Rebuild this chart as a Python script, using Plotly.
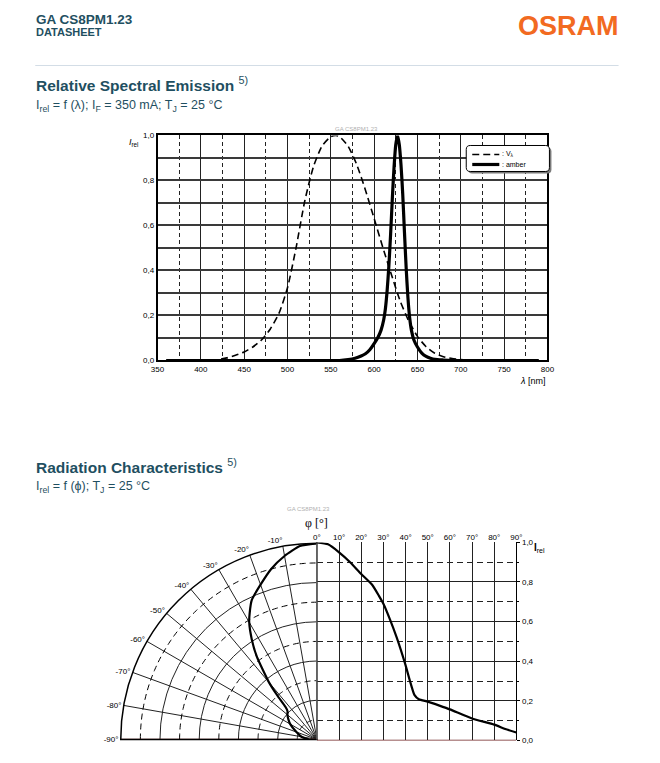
import numpy as np
import plotly.graph_objects as go

# Figure is 644x747 (the page body keeps an 8px margin).
# Positions below are given in reference-picture pixels and converted with a
# measured calibration between figure pixels and the photographed page.
OFF = 8
W, H = 644, 747
AX, BX = 0.976, 9.0
AY, BY = 0.988, 2.6


def sx(p):
    return (p - BX) / AX


def sy(p):
    return (p - BY) / AY


def X(p):
    return (sx(p) - OFF) / W


def Y(p):
    return 1 - (sy(p) - OFF) / H


# ---------------- data: relative spectral emission ----------------
v_wl = [360, 370, 380, 390, 400, 410, 420, 430, 440, 450, 460, 470, 480, 490, 500,
        510, 520, 530, 540, 550, 556, 560, 570, 580, 590, 600, 610, 620, 630, 640,
        650, 660, 670, 680, 690, 700, 710, 720, 730, 740, 750, 760, 770, 780, 790]
v_rel = [0.0, 0.0, 0.0, 0.0001, 0.0004, 0.0012, 0.004, 0.0116, 0.023, 0.038, 0.06,
         0.091, 0.139, 0.208, 0.323, 0.503, 0.71, 0.862, 0.954, 0.995, 1.0, 0.995,
         0.952, 0.87, 0.757, 0.631, 0.503, 0.381, 0.265, 0.175, 0.107, 0.061, 0.032,
         0.017, 0.0082, 0.0041, 0.0021, 0.001, 0.0005, 0.0002, 0.0001, 0.0, 0.0, 0.0, 0.0]

amber_wl = [360, 450, 520, 560, 570, 578, 585, 590, 595, 600, 604, 608, 611, 613,
            615, 617, 619, 621, 623, 625, 627, 629, 631, 633, 635, 637, 639, 641,
            643, 646, 650, 655, 660, 665, 670, 680, 690, 720, 790]
amber_rel = [0.0, 0.0, 0.0, 0.0, 0.004, 0.01, 0.02, 0.03, 0.048, 0.075, 0.10, 0.135,
             0.18, 0.23, 0.31, 0.42, 0.56, 0.72, 0.86, 0.96, 1.0, 0.96, 0.87, 0.74,
             0.57, 0.41, 0.28, 0.19, 0.135, 0.09, 0.06, 0.033, 0.018, 0.01, 0.005,
             0.002, 0.0, 0.0, 0.0]

spec_xticks = [350, 400, 450, 500, 550, 600, 650, 700, 750, 800]
spec_xminor = [375, 425, 475, 525, 575, 625, 675, 725, 775]
spec_yticks = [0.0, 0.2, 0.4, 0.6, 0.8, 1.0]
spec_ytick_text = ["0,0", "0,2", "0,4", "0,6", "0,8", "1,0"]
spec_yminor = [0.1, 0.3, 0.5, 0.7, 0.9]
legend_names = [": V<sub>λ</sub>", ": amber"]

# ---------------- data: radiation characteristics ----------------
angles = [0, 5, 10, 15, 20, 25, 28, 30, 33, 36, 40, 42, 44, 46, 50, 55, 60, 70, 80, 85, 90]
i_rel = [1.0, 0.99, 0.95, 0.9, 0.84, 0.785, 0.73, 0.69, 0.61, 0.52, 0.38, 0.30, 0.23,
         0.208, 0.196, 0.177, 0.157, 0.111, 0.08, 0.058, 0.04]

rad_xticks = [0, 10, 20, 30, 40, 50, 60, 70, 80, 90]
rad_xtick_text = ["0°", "10°", "20°", "30°", "40°", "50°", "60°", "70°", "80°", "90°"]
rad_yticks = [0.0, 0.2, 0.4, 0.6, 0.8, 1.0]
rad_ytick_text = ["0,0", "0,2", "0,4", "0,6", "0,8", "1,0"]
rad_yminor = [0.1, 0.3, 0.5, 0.7, 0.9]
polar_ticks = [-90, -80, -70, -60, -50, -40, -30, -20, -10]
polar_tick_text = ["-90°", "-80°", "-70°", "-60°", "-50°", "-40°", "-30°", "-20°", "-10°"]
polar_solid_r = [0.2, 0.4, 0.6, 0.8, 1.0]
polar_dash_r = [0.1, 0.3, 0.5, 0.7, 0.9]

FONT = "Liberation Sans, Arial, sans-serif"
TEAL = "#1f4f61"
DARKRED = "#6e2020"
V_DASH = "7px,4px"

# polar / radiation geometry (square in figure pixels)
CX, CY = sx(318), sy(739)
R = 200.5
pol_x = [(CX - R - OFF) / W, (CX - OFF) / W]
pol_y = [1 - (CY - OFF) / H, 1 - (CY - R - OFF) / H]
rad_x = [(CX - OFF) / W, X(517)]

fig = go.Figure()

# spectral curves
fig.add_trace(go.Scatter(
    x=v_wl, y=v_rel, mode="lines", name=legend_names[0],
    line=dict(color="black", width=1.6, dash=V_DASH, shape="spline", smoothing=0.6),
    xaxis="x", yaxis="y", hoverinfo="skip", showlegend=False))
fig.add_trace(go.Scatter(
    x=amber_wl, y=amber_rel, mode="lines", name=legend_names[1],
    line=dict(color="black", width=3.2, shape="spline", smoothing=0.7),
    xaxis="x", yaxis="y", hoverinfo="skip", showlegend=False))

# polar dashed arcs (grid)
arc_theta = np.linspace(-90, 0, 91)
for r in polar_dash_r:
    fig.add_trace(go.Scatterpolar(
        r=[r] * len(arc_theta), theta=arc_theta, mode="lines", subplot="polar",
        line=dict(color="black", width=1, dash="6px,4px"),
        showlegend=False, hoverinfo="skip"))
# -90° baseline
fig.add_trace(go.Scatterpolar(
    r=[0, 1], theta=[-90, -90], mode="lines", subplot="polar",
    line=dict(color=DARKRED, width=1.6), showlegend=False, hoverinfo="skip"))
# polar radiation curve
fig.add_trace(go.Scatterpolar(
    r=i_rel, theta=[-a for a in angles], mode="lines", subplot="polar",
    line=dict(color="black", width=2.2, shape="spline", smoothing=0.5),
    showlegend=False, hoverinfo="skip"))
# cartesian radiation curve
fig.add_trace(go.Scatter(
    x=angles, y=i_rel, mode="lines", xaxis="x2", yaxis="y2",
    line=dict(color="black", width=2.2, shape="spline", smoothing=0.5),
    showlegend=False, hoverinfo="skip"))

tickfont = dict(family=FONT, size=8, color="black")

fig.update_layout(
    width=W, height=H,
    margin=dict(l=0, r=0, t=0, b=0),
    paper_bgcolor="white", plot_bgcolor="white",
    font=dict(family=FONT, color="black"),
    showlegend=False,
    xaxis=dict(
        domain=[X(159), X(548)], range=[350, 800], anchor="y",
        tickmode="array", tickvals=spec_xticks, ticktext=[str(v) for v in spec_xticks],
        tickfont=tickfont, ticks="", showgrid=True, gridcolor="#222", gridwidth=1,
        showline=True, linecolor="black", linewidth=1.5, mirror=True, zeroline=False,
        minor=dict(tickvals=spec_xminor, showgrid=True, gridcolor="#222", gridwidth=1,
                   griddash="4px,3px", ticks=""),
    ),
    yaxis=dict(
        domain=[Y(359), Y(134)], range=[0, 1], anchor="x",
        tickmode="array", tickvals=spec_yticks, ticktext=spec_ytick_text,
        tickfont=tickfont, ticks="", showgrid=True, gridcolor="#3a3a3a", gridwidth=1.5,
        showline=True, linecolor="black", linewidth=1.5, mirror=True, zeroline=False,
        minor=dict(tickvals=spec_yminor, showgrid=True, gridcolor="#3a3a3a", gridwidth=1.5,
                   ticks=""),
    ),
    xaxis2=dict(
        domain=rad_x, range=[0, 90], anchor="y2", side="top",
        tickmode="array", tickvals=rad_xticks, ticktext=rad_xtick_text,
        tickfont=tickfont, ticks="", showgrid=True, gridcolor="#222", gridwidth=1,
        zeroline=True, zerolinecolor="#888", zerolinewidth=1, showline=False,
    ),
    yaxis2=dict(
        domain=pol_y, range=[0, 1], anchor="x2", side="right",
        tickmode="array", tickvals=rad_yticks, ticktext=rad_ytick_text,
        tickfont=tickfont, ticks="outside", ticklen=3, tickcolor="black",
        showgrid=True, gridcolor="#222", gridwidth=1,
        zeroline=False, showline=True, linecolor="black", linewidth=1,
        minor=dict(tickvals=rad_yminor, showgrid=True, gridcolor="#222", gridwidth=1,
                   griddash="6px,4px", ticks="outside", ticklen=2, tickcolor="black"),
    ),
    polar=dict(
        domain=dict(x=pol_x, y=pol_y),
        sector=[90, 180],
        bgcolor="white",
        radialaxis=dict(range=[0, 1], tickvals=polar_solid_r, showticklabels=False,
                        ticks="", showgrid=True, gridcolor="#222", gridwidth=1,
                        showline=True, linecolor="#888", linewidth=1),
        angularaxis=dict(rotation=90, direction="clockwise",
                         tickmode="array", tickvals=polar_ticks, ticktext=polar_tick_text,
                         tickfont=tickfont, ticks="", showgrid=True, gridcolor="#222",
                         gridwidth=1, showline=True, linecolor="black", linewidth=1.5),
    ),
)


def rounded_rect(x0, y0, x1, y1, r):
    pts = [
        f"M {X(x0 + r)},{Y(y0)}", f"L {X(x1 - r)},{Y(y0)}",
        f"Q {X(x1)},{Y(y0)} {X(x1)},{Y(y0 + r)}", f"L {X(x1)},{Y(y1 - r)}",
        f"Q {X(x1)},{Y(y1)} {X(x1 - r)},{Y(y1)}", f"L {X(x0 + r)},{Y(y1)}",
        f"Q {X(x0)},{Y(y1)} {X(x0)},{Y(y1 - r)}", f"L {X(x0)},{Y(y0 + r)}",
        f"Q {X(x0)},{Y(y0)} {X(x0 + r)},{Y(y0)}", "Z",
    ]
    return " ".join(pts)


# legend box with shadow
fig.add_shape(type="path", xref="paper", yref="paper",
              path=rounded_rect(469, 146, 552, 172, 4),
              fillcolor="#7a7a7a", line=dict(width=0), layer="above")
fig.add_shape(type="path", xref="paper", yref="paper",
              path=rounded_rect(467, 144, 550, 170, 4),
              fillcolor="white", line=dict(color="black", width=1), layer="above")
fig.add_shape(type="line", xref="paper", yref="paper",
              x0=X(473), x1=X(500), y0=Y(153), y1=Y(153),
              line=dict(color="black", width=1.6, dash=V_DASH), layer="above")
fig.add_shape(type="line", xref="paper", yref="paper",
              x0=X(473), x1=X(500), y0=Y(163), y1=Y(163),
              line=dict(color="black", width=3.2), layer="above")

# bottom baseline of cartesian radiation plot
fig.add_shape(type="line", xref="x2", yref="y2", x0=0, x1=90, y0=0, y1=0,
              line=dict(color=DARKRED, width=1.6), layer="above")
# header rule
fig.add_shape(type="line", xref="paper", yref="paper", x0=X(37), x1=X(619),
              y0=Y(64), y1=Y(64), line=dict(color="#d3dde6", width=1))


def ann(text, x, y, size, color="black", xanchor="left", yanchor="middle", family=FONT):
    fig.add_annotation(text=text, x=X(x), y=Y(y), xref="paper", yref="paper",
                       showarrow=False, xanchor=xanchor, yanchor=yanchor,
                       font=dict(family=family, size=size, color=color))


ann("<b>GA CS8PM1.23</b>", 36, 18, 13.5, TEAL)
ann("<b>DATASHEET</b>", 36, 31, 11, TEAL)
ann("<b>OSRAM</b>", 621, 25, 27, "#f26a21", xanchor="right")
ann("<b>Relative Spectral Emission</b> <sup>5)</sup>", 36, 83, 15.5, TEAL)
ann("I<sub>rel</sub> = f (λ); I<sub>F</sub> = 350 mA; T<sub>J</sub> = 25 °C", 36, 105, 12.5, TEAL)
ann("<b>Radiation Characteristics</b> <sup>5)</sup>", 36, 465, 15.5, TEAL)
ann("I<sub>rel</sub> = f (ϕ); T<sub>J</sub> = 25 °C", 36, 486, 12.5, TEAL)

ann("GA CS8PM1.23", 358, 128, 6, "#b0b0b0", xanchor="center")
ann("<i>I</i><sub>rel</sub>", 136, 141, 9, "black", xanchor="center")
ann("<i>λ</i> [nm]", 548, 380, 9, "black", xanchor="right")
ann(legend_names[0], 501, 153, 7, "black")
ann(legend_names[1], 501, 163, 7, "black")

ann("GA CS8PM1.23", 310, 508, 6, "#b0b0b0", xanchor="center")
ann("φ [°]", 318, 522, 12, "black", xanchor="center", family="Liberation Serif, serif")
ann("<b>I</b><sub>rel</sub>", 540, 547, 10, "black", xanchor="center")

fig.write_html("out.html", config={"displayModeBar": False})
